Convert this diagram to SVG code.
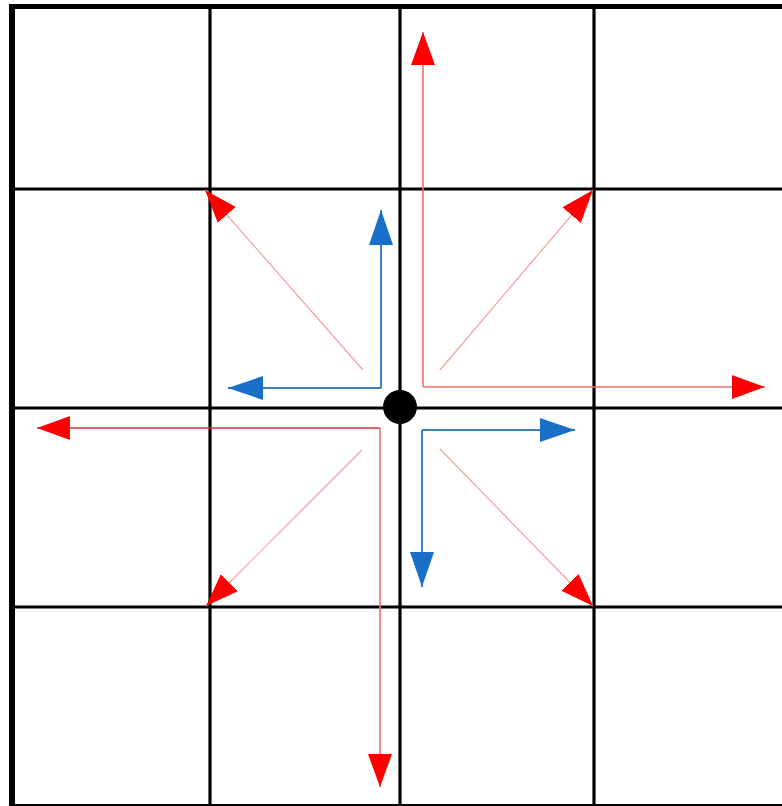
<svg xmlns="http://www.w3.org/2000/svg" width="782" height="806" viewBox="0 0 782 806">
  <style>
    .grid { stroke: #000; stroke-width: 3.2; fill: none; }
    .border { stroke: #000; fill: none; }
    .red { stroke: #f07070; stroke-width: 1.6; fill: none; }
    .redk { stroke: #e03030; stroke-width: 1.6; fill: none; }
    .redd { stroke: #f2a0a0; stroke-width: 1.2; fill: none; }
    .blue { stroke: #3a80c8; stroke-width: 2; fill: none; }
  </style>
  <defs>
    <marker id="ahr" markerUnits="userSpaceOnUse" markerWidth="34" markerHeight="26" refX="33" refY="12.5" orient="auto">
      <path d="M0,0.5 L33,12.5 L0,24.5 z" fill="#ff0000"/>
    </marker>
    <marker id="ahb" markerUnits="userSpaceOnUse" markerWidth="36" markerHeight="26" refX="35" refY="12.5" orient="auto">
      <path d="M0,0.5 L35,12.5 L0,24.5 z" fill="#1870c8"/>
    </marker>
  </defs>
  <rect x="0" y="0" width="782" height="806" fill="#fff"/>
  <g id="grid">
    <line class="grid" x1="210" y1="6" x2="210" y2="806"/>
    <line class="grid" x1="400" y1="6" x2="400" y2="806"/>
    <line class="grid" x1="594" y1="6" x2="594" y2="806"/>
    <line class="grid" x1="12" y1="189" x2="782" y2="189"/>
    <line class="grid" x1="12" y1="408" x2="782" y2="408"/>
    <line class="grid" x1="12" y1="607" x2="782" y2="607"/>
    <line class="border" stroke-width="2" x1="12" y1="805" x2="782" y2="805"/>
    <line class="border" stroke-width="5" x1="9" y1="6.5" x2="782" y2="6.5"/>
    <line class="border" stroke-width="6" x1="12" y1="4" x2="12" y2="806"/>
  </g>
  <g id="connectors">
    <line class="red" x1="423" y1="387" x2="423" y2="32" marker-end="url(#ahr)"/>
    <line class="red" x1="423" y1="387" x2="765" y2="387" marker-end="url(#ahr)"/>
    <line class="redk" x1="380" y1="428" x2="37" y2="428" marker-end="url(#ahr)"/>
    <line class="red" x1="380" y1="428" x2="380" y2="787" marker-end="url(#ahr)"/>
    <line class="redd" x1="363" y1="370" x2="205" y2="190" marker-end="url(#ahr)"/>
    <line class="redd" x1="440" y1="370" x2="593" y2="190" marker-end="url(#ahr)"/>
    <line class="redd" x1="362" y1="450" x2="206" y2="606" marker-end="url(#ahr)"/>
    <line class="redd" x1="440" y1="449" x2="593" y2="606" marker-end="url(#ahr)"/>
    <line class="blue" x1="381" y1="388" x2="381" y2="210" marker-end="url(#ahb)"/>
    <line class="blue" x1="381" y1="388" x2="228" y2="388" marker-end="url(#ahb)"/>
    <line class="blue" x1="422" y1="430" x2="575" y2="430" marker-end="url(#ahb)"/>
    <line class="blue" x1="422" y1="430" x2="422" y2="587" marker-end="url(#ahb)"/>
  </g>
  <g id="origin">
    <circle cx="400" cy="407" r="17" fill="#000"/>
  </g>
</svg>
